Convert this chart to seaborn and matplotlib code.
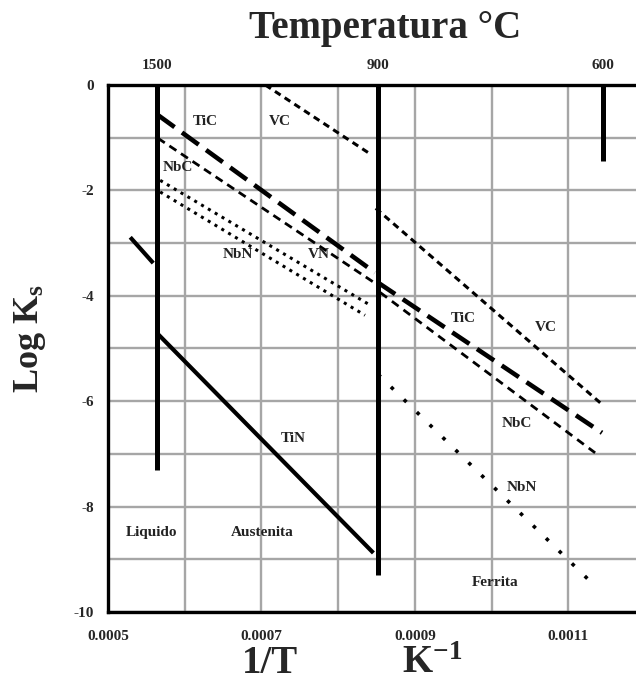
import numpy as np
import pandas as pd
import matplotlib
matplotlib.use("Agg")
import matplotlib.pyplot as plt
import seaborn as sns

# ---- data: solubility products log Ks vs 1/T (K^-1) ----
vc_aus_invT = [0.000705, 0.000844]
vc_aus_logk = [0.0, -1.33]
vc_fer_invT = [0.000849, 0.001144]
vc_fer_logk = [-2.34, -6.06]

tic_aus_invT = [0.000565, 0.000848]
tic_aus_logk = [-0.57, -3.56]
tic_fer_invT = [0.000852, 0.001144]
tic_fer_logk = [-3.75, -6.60]

nbc_aus_invT = [0.000565, 0.000848]
nbc_aus_logk = [-1.01, -3.76]
nbc_fer_invT = [0.000855, 0.001135]
nbc_fer_logk = [-3.94, -6.98]

nbn_aus_invT = [0.000568, 0.000842]
nbn_aus_logk = [-1.81, -4.18]
nbn_fer_invT = [0.000852, 0.001128]
nbn_fer_logk = [-5.49, -9.41]

vn_aus_invT = [0.000568, 0.000835]
vn_aus_logk = [-2.03, -4.37]

tin_liq_invT = [0.000529, 0.000559]
tin_liq_logk = [-2.89, -3.38]
tin_aus_invT = [0.000564, 0.000846]
tin_aus_logk = [-4.71, -8.88]

# phase-change temperatures (°C) and how far down each boundary line runs
boundary_temps = [1500, 900, 600]
boundary_bottom = [-7.3, -9.3, -1.45]

x_tick_values = [0.0005, 0.0007, 0.0009, 0.0011]
x_tick_labels = ["0.0005", "0.0007", "0.0009", "0.0011"]
y_tick_values = [0, -2, -4, -6, -8, -10]
y_tick_labels = ["0", "-2", "-4", "-6", "-8", "-10"]

# ---- style ----
sns.set_theme(style="white")
plt.rcParams["font.family"] = ["Liberation Serif", "DejaVu Serif"]
plt.rcParams["font.weight"] = "bold"
plt.rcParams["mathtext.fontset"] = "custom"
plt.rcParams["mathtext.rm"] = "Liberation Serif:bold"
plt.rcParams["mathtext.it"] = "Liberation Serif:bold"
plt.rcParams["mathtext.bf"] = "Liberation Serif:bold"

fig = plt.figure(figsize=(6.36, 6.84), dpi=100)
ax = fig.add_axes([0.1698, 0.1053, 0.8443, 0.7705])

def seg(xs, ys, lw, ls, cap="butt"):
    sns.lineplot(x=xs, y=ys, ax=ax, color="black", linewidth=lw,
                 linestyle=ls, estimator=None, sort=False,
                 solid_capstyle=cap, dash_capstyle=cap)

# phase boundaries
for t, b in zip(boundary_temps, boundary_bottom):
    inv = 1.0 / (t + 273)
    seg([inv, inv], [0.0, b], 3.6, "-")

# carbides / nitrides
seg(vc_aus_invT, vc_aus_logk, 2.2, (0, (2.2, 1.6)))
seg(vc_fer_invT, vc_fer_logk, 2.2, (0, (2.2, 1.6)))
seg(tic_aus_invT, tic_aus_logk, 3.3, (0, (4.5, 2.0)))
seg(tic_fer_invT, tic_fer_logk, 3.3, (0, (4.5, 2.0)))
seg(nbc_aus_invT, nbc_aus_logk, 2.0, (0, (3.0, 2.0)))
seg(nbc_fer_invT, nbc_fer_logk, 2.0, (0, (3.0, 2.2)))
seg(nbn_aus_invT, nbn_aus_logk, 2.2, (0, (1.0, 1.6)))
seg(vn_aus_invT, vn_aus_logk, 2.2, (0, (1.0, 1.6)))
seg(nbn_fer_invT, nbn_fer_logk, 2.6, (0, (1.0, 4.0)))
seg(tin_liq_invT, tin_liq_logk, 3.0, "-")
seg(tin_aus_invT, tin_aus_logk, 3.0, "-")

# axes limits, grid and ticks
ax.set_xlim(0.0005, 0.0012)
ax.set_ylim(-10, 0)
ax.set_xticks(x_tick_values)
ax.set_xticklabels(x_tick_labels)
ax.set_xticks(np.arange(0.0005, 0.00121, 0.0001), minor=True)
ax.set_yticks(y_tick_values)
ax.set_yticklabels(y_tick_labels)
ax.set_yticks(np.arange(-10, 0.5, 1), minor=True)
ax.grid(True, which="both", color="#a6a6a6", linewidth=1.7)
ax.set_axisbelow(True)
ax.tick_params(axis="x", which="both", length=0, pad=13, labelsize=11)
ax.tick_params(axis="y", which="both", length=0, pad=10, labelsize=11)
for s in ax.spines.values():
    s.set_color("black")
    s.set_linewidth(2.4)
ax.set_xlabel("")
ax.set_ylabel("")

# temperature scale on top
ax2 = ax.twiny()
ax2.set_xlim(ax.get_xlim())
ax2.set_xticks([1.0 / (t + 273) for t in boundary_temps])
ax2.set_xticklabels([str(t) for t in boundary_temps])
ax2.tick_params(axis="x", length=0, pad=9, labelsize=11)
ax2.grid(False)
for s in ax2.spines.values():
    s.set_visible(False)

# region and compound labels
labels = [
    ("TiC", 0.0006265, -0.70), ("VC", 0.0007243, -0.70),
    ("NbC", 0.0005913, -1.56), ("NbN", 0.0006695, -3.21),
    ("VN", 0.0007751, -3.21), ("TiC", 0.0009628, -4.43),
    ("VC", 0.001071, -4.60), ("NbC", 0.0010333, -6.43),
    ("TiN", 0.0007412, -6.71), ("NbN", 0.0010398, -7.64),
    ("Liquido", 0.0005574, -8.50), ("Austenita", 0.0007008, -8.50),
    ("Ferrita", 0.0010046, -9.45),
]
for txt, x, y in labels:
    ax.text(x, y, txt, fontsize=11, ha="center", va="center",
            color="#222222")

# titles
fig.text(0.605, 0.958, "Temperatura °C", fontsize=28, ha="center",
         va="center")
fig.text(0.425, 0.030, "1/T", fontsize=28, ha="center", va="center")
fig.text(0.680, 0.030, "K$^{-1}$", fontsize=28, ha="center", va="center")
fig.text(0.047, 0.505, "Log K$_{s}$", fontsize=26, ha="center",
         va="center", rotation=90)

fig.savefig("out.png", dpi=100)
